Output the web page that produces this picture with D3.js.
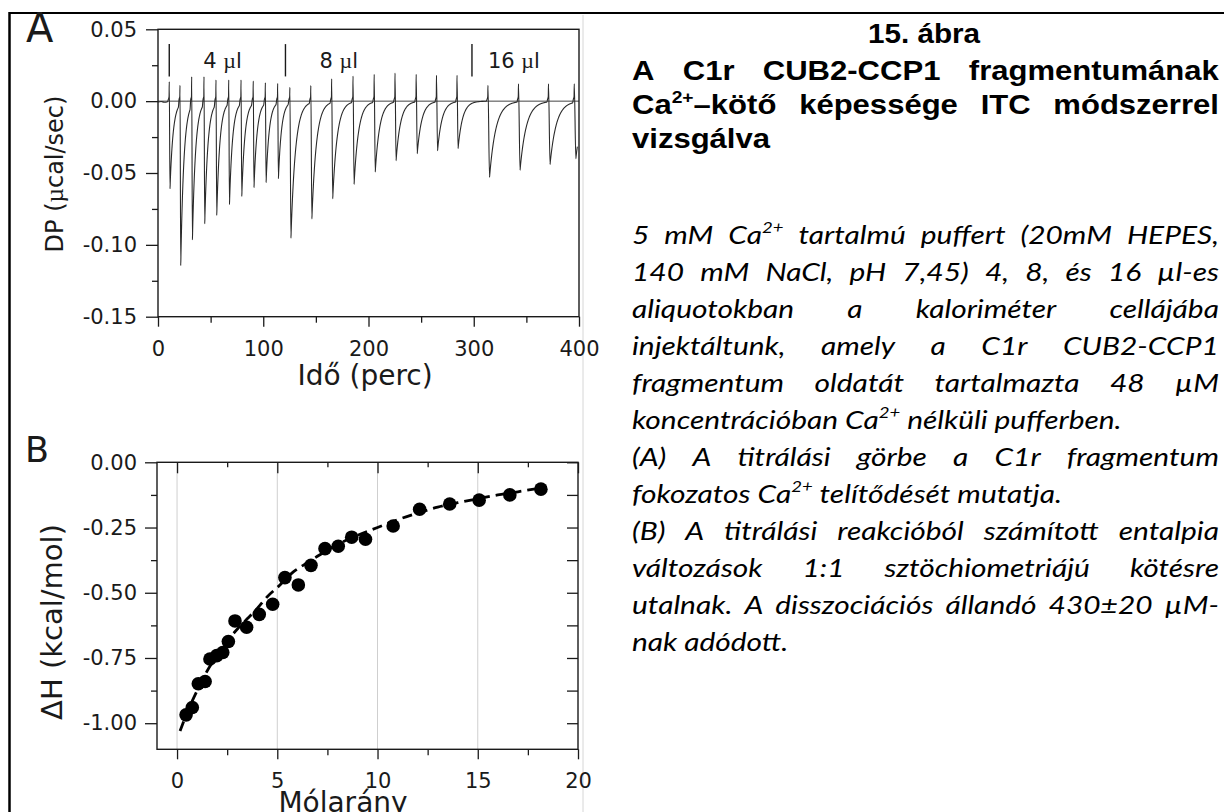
<!DOCTYPE html>
<html><head><meta charset="utf-8">
<script src="https://cdn.jsdelivr.net/npm/d3@7"></script>
<style>
html,body{margin:0;padding:0;background:#fff;}
svg{display:block;}
</style></head><body>
<svg id="c" width="1224" height="812"></svg>
<script>
// ---------------- Panel A data (ITC thermogram) ----------------
const injTimes   = [10.7,20.9,32.0,43.7,55.1,67.2,78.9,90.5,102.0,113.7,
                    125.3,145.2,165.0,185.3,205.4,225.2,245.3,264.6,284.1,
                    313.5,342.5,371.0,395.5];
const injVolumes = [4,4,4,4,4,4,4,4,4,4, 8,8,8,8,8,8,8,8,8, 16,16,16,16];
const peakMins   = [-0.061,-0.1144,-0.0965,-0.0853,-0.0795,-0.0719,-0.0663,-0.0602,-0.0567,-0.0540,
                    -0.0953,-0.0819,-0.0679,-0.0579,-0.0493,-0.0414,-0.0365,-0.0345,-0.0330,
                    -0.0530,-0.0480,-0.0440,-0.0400];
const spikeTops  = [0.0135,0.0110,0.0170,0.0170,0.0147,0.0147,0.0147,0.0140,0.0128,0.0123,
                    0.0095,0.0108,0.0155,0.0174,0.0186,0.0195,0.0186,0.0180,0.0180,
                    0.0110,0.0120,0.0120,0.0120];
const baselineStart = [[0,-0.0006],[3,-0.0002],[6,-0.0008],[9,-0.0004]];
const markerTimes  = [10.7, 121.1, 298.3];
const markerLabels = ["4", "8", "16"];
const xTicksA = [0,100,200,300,400];
const xMinorA = [50,150,250,350];
const yTicksA = [0.05,0.00,-0.05,-0.10,-0.15];
const yMinorA = [0.025,-0.025,-0.075,-0.125];

// ---------------- Panel B data (binding isotherm) ----------------
const molarRatio = [0.45,0.76,1.06,1.40,1.64,1.98,2.28,2.56,2.89,3.47,4.10,4.77,5.38,6.05,6.68,7.38,8.04,8.71,9.40,10.78,12.10,13.60,15.07,16.60,18.15];
const deltaH     = [-0.968,-0.940,-0.849,-0.840,-0.754,-0.741,-0.729,-0.687,-0.608,-0.632,-0.583,-0.544,-0.442,-0.470,-0.395,-0.331,-0.322,-0.287,-0.295,-0.244,-0.180,-0.160,-0.145,-0.125,-0.103];
const fitX = [0.15,0.5,1.0,1.5,2.0,2.5,3.0,3.5,4.0,4.5,5.0,5.8,6.5,7.0,8.0,9.0,10.0,11.0,12.0,13.0,14.0,15.0,16.0,17.0,18.0];
const fitY = [-1.03,-0.96,-0.875,-0.80,-0.74,-0.685,-0.64,-0.60,-0.56,-0.515,-0.48,-0.42,-0.385,-0.36,-0.315,-0.28,-0.25,-0.22,-0.195,-0.172,-0.155,-0.14,-0.125,-0.113,-0.10];
const xTicksB = [0,5,10,15,20];
const xMinorB = [2.5,7.5,12.5,17.5];
const yTicksB = [0.00,-0.25,-0.50,-0.75,-1.00];
const yMinorB = [-0.125,-0.375,-0.625,-0.875];

// ---------------- Caption text ----------------
const figNumber = "15. ábra";
const headLines = [
  {w:["A","C1r","CUB2-CCP1","fragmentumának"], j:true},
  {w:["Ca{2+}–kötő","képessége","ITC","módszerrel"], j:true},
  {w:["vizsgálva"], j:false}
];
const bodyLines = [
  {w:"5 mM Ca{2+} tartalmú puffert (20mM HEPES,", j:true},
  {w:"140 mM NaCl, pH 7,45) 4, 8, és 16 µl-es", j:true},
  {w:"aliquotokban a kaloriméter cellájába", j:true},
  {w:"injektáltunk, amely a C1r CUB2-CCP1", j:true},
  {w:"fragmentum oldatát tartalmazta 48 µM", j:true},
  {w:"koncentrációban Ca{2+} nélküli pufferben.", j:false},
  {w:"(A) A titrálási görbe a C1r fragmentum", j:true},
  {w:"fokozatos Ca{2+} telítődését mutatja.", j:false},
  {w:"(B) A titrálási reakcióból számított entalpia", j:true},
  {w:"változások 1:1 sztöchiometriájú kötésre", j:true},
  {w:"utalnak. A disszociációs állandó 430±20 µM-", j:true},
  {w:"nak adódott.", j:false}
];

// =================================================================
const svg = d3.select("#c");
const sans = "'DejaVu Sans', sans-serif";
const ink = "#1a1a1a";

// page frame
svg.append("line").attr("x1",9).attr("x2",1224).attr("y1",13).attr("y2",13).attr("stroke","#000").attr("stroke-width",2);
svg.append("line").attr("x1",9.5).attr("x2",9.5).attr("y1",12).attr("y2",812).attr("stroke","#000").attr("stroke-width",2.5);
svg.append("line").attr("x1",583).attr("x2",583).attr("y1",15).attr("y2",812).attr("stroke","#d6d6d6").attr("stroke-width",1);

function styleAxis(g, fs){
  g.select(".domain").remove();
  g.selectAll("line").attr("stroke",ink).attr("stroke-width",1.3);
  g.selectAll("text").attr("font-family",sans).attr("font-size",fs).attr("fill",ink);
}
const fmt2 = d => (Math.abs(d) < 1e-9 ? 0 : d).toFixed(2);

// ---------------- Panel A ----------------
const xA = d3.scaleLinear().domain([0,400]).range([158,579]);
const yA = d3.scaleLinear().domain([-0.15,0.05]).range([316.7,29.3]);
const gA = svg.append("g");

gA.append("line").attr("x1",xA(0)).attr("x2",xA(400)).attr("y1",yA(0)).attr("y2",yA(0))
  .attr("stroke","#444").attr("stroke-width",1);

// trace built from injection parameters
const tauByVol  = {4:3.0, 8:4.3, 16:6.0};
const fallByVol = {4:0.7, 8:1.0, 16:1.5};
let trace = baselineStart.slice();
injTimes.forEach((ts,i) => {
  const v = injVolumes[i];
  const next = i < injTimes.length-1 ? injTimes[i+1] : 400.01;
  trace.push([ts-0.9, 0.0012]);
  trace.push([ts-0.2, 0.0032]);
  trace.push([ts, spikeTops[i]]);
  const tm = ts + fallByVol[v];
  trace.push([tm, peakMins[i]]);
  for (let t = tm+0.2; t < Math.min(next-1.5, 400.01); t += 0.2) {
    trace.push([t, peakMins[i]*Math.exp(-(t-tm)/tauByVol[v])]);
  }
});
trace = trace.filter(p => p[0] <= 400);
gA.append("path").datum(trace)
  .attr("d", d3.line().x(d=>xA(d[0])).y(d=>yA(d[1])).curve(d3.curveMonotoneX))
  .attr("fill","none").attr("stroke","#2a2a2a").attr("stroke-width",1.1);

// frame
gA.append("rect").attr("x",xA(0)).attr("y",yA(0.05)).attr("width",xA(400)-xA(0)).attr("height",yA(-0.15)-yA(0.05))
  .attr("fill","none").attr("stroke",ink).attr("stroke-width",1.4);

// axes A
const axLA = gA.append("g").attr("transform",`translate(${xA(0)},0)`)
  .call(d3.axisLeft(yA).tickValues(yTicksA).tickSize(12).tickPadding(9).tickFormat(fmt2));
styleAxis(axLA, 21);
const axLAm = gA.append("g").attr("transform",`translate(${xA(0)},0)`)
  .call(d3.axisLeft(yA).tickValues(yMinorA).tickSize(6).tickFormat(""));
styleAxis(axLAm, 21);
const axBA = gA.append("g").attr("transform",`translate(0,${yA(-0.15)})`)
  .call(d3.axisBottom(xA).tickValues(xTicksA).tickSize(10).tickFormat(d3.format("d")));
styleAxis(axBA, 21);
axBA.selectAll("text").attr("y",39).attr("dy",0);
const axBAm = gA.append("g").attr("transform",`translate(0,${yA(-0.15)})`)
  .call(d3.axisBottom(xA).tickValues(xMinorA).tickSize(6).tickFormat(""));
styleAxis(axBAm, 21);

// injection markers
markerTimes.forEach((t,i) => {
  gA.append("line").attr("x1",xA(t)).attr("x2",xA(t)).attr("y1",yA(0.0397)).attr("y2",yA(0.0172))
    .attr("stroke",ink).attr("stroke-width",1.4);
  const lab = gA.append("text").attr("x", xA(t) + (i===2?16:34)).attr("y",68)
    .attr("font-family",sans).attr("font-size",21).attr("fill",ink);
  lab.append("tspan").text(markerLabels[i] + " ");
  lab.append("tspan").attr("font-family","'Liberation Serif', serif").attr("font-size",22).text("µ");
  lab.append("tspan").text("l");
});

gA.append("text").attr("x",26).attr("y",42).attr("font-family",sans).attr("font-size",40).attr("fill",ink).text("A");
gA.append("text").attr("x",365).attr("y",385).attr("text-anchor","middle")
  .attr("font-family",sans).attr("font-size",28).attr("fill",ink).text("Idő (perc)");
const yTitleA = gA.append("text").attr("transform","translate(63,174) rotate(-90)").attr("text-anchor","middle")
  .attr("font-family",sans).attr("font-size",24).attr("fill",ink);
yTitleA.append("tspan").text("DP (");
yTitleA.append("tspan").attr("font-family","'Liberation Serif', serif").attr("font-size",25).text("µ");
yTitleA.append("tspan").text("cal/sec)");

// ---------------- Panel B ----------------
const xB = d3.scaleLinear().domain([-1,20]).range([157,578]);
const yB = d3.scaleLinear().domain([-1.1,0]).range([749.3,462.3]);
const gB = svg.append("g");

gB.selectAll("line.grid").data(xTicksB.slice(0,-1)).join("line").attr("class","grid")
  .attr("x1",d=>xB(d)).attr("x2",d=>xB(d)).attr("y1",yB(0)).attr("y2",yB(-1.1))
  .attr("stroke","#cfcfcf").attr("stroke-width",1);

gB.append("path").datum(fitX.map((x,i)=>[x,fitY[i]]))
  .attr("d", d3.line().x(d=>xB(d[0])).y(d=>yB(d[1])).curve(d3.curveMonotoneX))
  .attr("fill","none").attr("stroke","#000").attr("stroke-width",2.8).attr("stroke-dasharray","10,6");

gB.selectAll("circle").data(molarRatio.map((x,i)=>[x,deltaH[i]])).join("circle")
  .attr("cx",d=>xB(d[0])).attr("cy",d=>yB(d[1])).attr("r",6.8).attr("fill","#000");

gB.append("rect").attr("x",xB(-1)).attr("y",yB(0)).attr("width",xB(20)-xB(-1)).attr("height",yB(-1.1)-yB(0))
  .attr("fill","none").attr("stroke",ink).attr("stroke-width",1.4);

const axLB = gB.append("g").attr("transform",`translate(${xB(-1)},0)`)
  .call(d3.axisLeft(yB).tickValues(yTicksB).tickSize(12).tickPadding(8).tickFormat(fmt2));
styleAxis(axLB, 21);
const axLBm = gB.append("g").attr("transform",`translate(${xB(-1)},0)`)
  .call(d3.axisLeft(yB).tickValues(yMinorB).tickSize(6).tickFormat(""));
styleAxis(axLBm, 21);
const axRB = gB.append("g").attr("transform",`translate(${xB(20)},0)`)
  .call(d3.axisLeft(yB).tickValues(yTicksB.concat(yMinorB)).tickSize(11).tickFormat(""));
styleAxis(axRB, 21);
const axTB = gB.append("g").attr("transform",`translate(0,${yB(0)})`)
  .call(d3.axisBottom(xB).tickValues(xTicksB).tickSize(11).tickFormat(""));
styleAxis(axTB, 21);
const axTBm = gB.append("g").attr("transform",`translate(0,${yB(0)})`)
  .call(d3.axisBottom(xB).tickValues(xMinorB).tickSize(5).tickFormat(""));
styleAxis(axTBm, 21);
const axBB = gB.append("g").attr("transform",`translate(0,${yB(-1.1)})`)
  .call(d3.axisBottom(xB).tickValues(xTicksB).tickSize(10).tickFormat(d3.format("d")));
styleAxis(axBB, 21);
axBB.selectAll("text").attr("y",38.5).attr("dy",0);
const axBBm = gB.append("g").attr("transform",`translate(0,${yB(-1.1)})`)
  .call(d3.axisBottom(xB).tickValues(xMinorB).tickSize(6).tickFormat(""));
styleAxis(axBBm, 21);

gB.append("text").attr("x",25).attr("y",462).attr("font-family",sans).attr("font-size",35).attr("fill",ink).text("B");
gB.append("text").attr("x",343).attr("y",812).attr("text-anchor","middle")
  .attr("font-family",sans).attr("font-size",28).attr("fill",ink).text("Mólarány");
gB.append("text").attr("transform","translate(62,622) rotate(-90)").attr("text-anchor","middle")
  .attr("font-family",sans).attr("font-size",29).attr("fill",ink).text("ΔH (kcal/mol)");

// ---------------- Caption ----------------
const colL = 632, colR = 1219;
function addRich(t, w, size){
  const parts = w.split(/(\{[^}]*\})/).filter(s=>s.length);
  let raised = false;
  parts.forEach(p=>{
    if (p.startsWith("{")) {
      t.append("tspan").attr("font-size", size*0.62).attr("dy", -size*0.42).text(p.slice(1,-1));
      raised = true;
    } else {
      const ts = t.append("tspan").text(p);
      if (raised) { ts.attr("dy", size*0.42); raised = false; }
    }
  });
}
function drawLine(words, y, o){
  const els = words.map(w => {
    const t = svg.append("text").attr("font-family",o.font).attr("font-size",o.size)
      .attr("font-weight",o.weight).attr("font-style",o.style).attr("fill","#000");
    addRich(t, w, o.size);
    return t;
  });
  const widths = els.map(t => t.node().getComputedTextLength()*o.sx);
  const total = d3.sum(widths);
  const gap = (o.justify && words.length>1) ? (colR-colL-total)/(words.length-1) : o.size*o.space*o.sx;
  let x = colL;
  els.forEach((t,i)=>{ t.attr("transform",`translate(${x},${y}) scale(${o.sx},1)`); x += widths[i] + gap; });
}
const headOpt = {font:"'Liberation Sans', Arial, sans-serif", size:27, weight:"bold", style:"normal", sx:1.15, space:0.278};
svg.append("text").attr("transform","translate(924,43) scale(1.1,1)").attr("text-anchor","middle")
  .attr("font-family",headOpt.font).attr("font-size",27).attr("font-weight","bold").attr("fill","#000").text(figNumber);
headLines.forEach((l,i) => drawLine(l.w, 80 + i*34, Object.assign({justify:l.j}, headOpt)));

const bodyOpt = {font:"Lato, 'Open Sans', sans-serif", size:26, weight:"normal", style:"italic", sx:1.15, space:0.23};
bodyLines.forEach((l,i) => drawLine(l.w.split(" "), 244 + i*37, Object.assign({justify:l.j}, bodyOpt)));
</script>
</body></html>
